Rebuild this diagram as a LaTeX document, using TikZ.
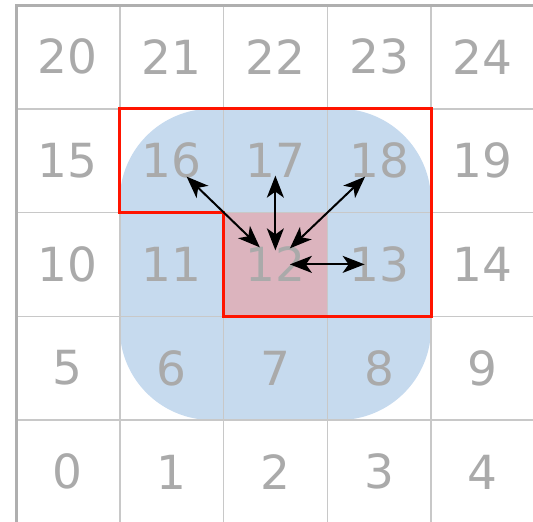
\documentclass[tikz,border=0pt]{standalone}
\usepackage{fontspec}
\setmainfont{DejaVu Sans}
\usetikzlibrary{arrows.meta,calc}
\definecolor{nbblue}{RGB}{198,218,238}
\definecolor{nbpink}{RGB}{220,180,190}
\definecolor{gridgray}{RGB}{200,200,200}
\definecolor{bordergray}{RGB}{175,175,175}
\definecolor{numgray}{RGB}{170,170,170}
\definecolor{outline}{RGB}{255,20,0}
\tikzset{
  numlabel/.style={text=numgray, font=\fontsize{47}{47}\selectfont, inner sep=0pt},
  gridline/.style={draw=gridgray, line width=1.5pt},
  outerline/.style={draw=bordergray, line width=3pt},
  nbarrow/.style={draw=black, line width=2pt},
}
\begin{document}
\begin{tikzpicture}[x=1pt,y=-1pt]
\useasboundingbox (0,0) rectangle (533,522);
\def\xo{16}\def\yo{5}\def\s{103.75}
% blue neighbourhood
\fill[nbblue, rounded corners=92pt] (\xo+\s,\yo+\s) rectangle (\xo+4*\s,\yo+4*\s);
% pink center cell
\fill[nbpink] (\xo+2*\s,\yo+2*\s) rectangle (\xo+3*\s,\yo+3*\s);
% grid
\foreach \i in {1,2,3,4} {
  \draw[gridline] (\xo+\i*\s,\yo) -- (\xo+\i*\s,540);
  \draw[gridline] (\xo,\yo+\i*\s) -- (540,\yo+\i*\s);
}
\draw[outerline] (\xo,540) -- (\xo,\yo) -- (540,\yo);
% numbers
\foreach \r in {0,...,4} {
  \foreach \c in {0,...,4} {
    \pgfmathtruncatemacro{\n}{(4-\r)*5+\c}
    \node[numlabel] (c\n) at (\xo+\c*\s+0.5*\s, \yo+\r*\s+0.5*\s) {\n};
  }
}
% red outline
\draw[outline, line width=3pt] (\xo+\s,\yo+\s) -- (\xo+4*\s,\yo+\s) -- (\xo+4*\s,\yo+3*\s) -- (\xo+2*\s,\yo+3*\s) -- (\xo+2*\s,\yo+2*\s) -- (\xo+\s,\yo+2*\s) -- cycle;
% arrows
\coordinate (s16) at ($(c12.center)+(-15.5,-17)$);
\coordinate (e16) at ($(c16.center)+(15,16)$);
\coordinate (s17) at ($(c12.center)+(0,-14)$);
\coordinate (e17) at ($(c17.center)+(0,15)$);
\coordinate (s18) at ($(c12.center)+(14.5,-16)$);
\coordinate (e18) at ($(c18.center)+(-14,16)$);
\coordinate (s13) at ($(c12.center)+(14.5,0)$);
\coordinate (e13) at ($(c13.center)+(-14.5,0)$);
\foreach \a in {16,17,18,13} {
  \draw[nbarrow, {Stealth[length=22pt,width=17pt,inset=6pt]}-{Stealth[length=22pt,width=17pt,inset=6pt]}] (s\a) -- (e\a);
}
\end{tikzpicture}
\end{document}
